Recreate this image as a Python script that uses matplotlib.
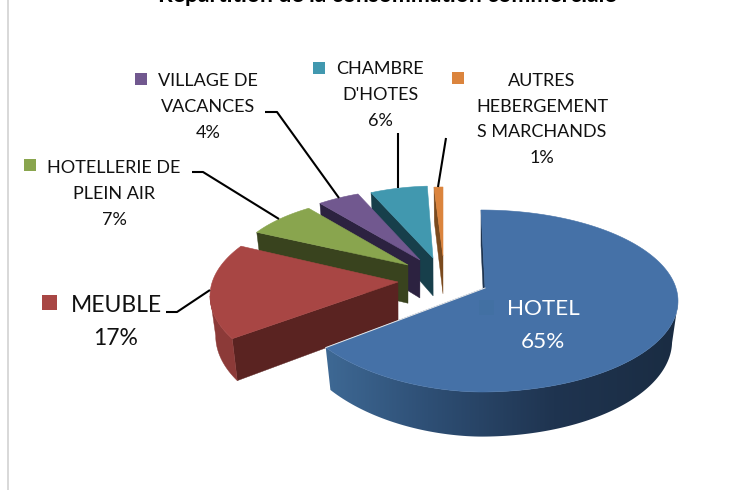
import numpy as np
import matplotlib
matplotlib.use("Agg")
import matplotlib.pyplot as plt
from matplotlib.patches import Polygon, Rectangle
from matplotlib.colors import LinearSegmentedColormap

plt.rcParams['font.family'] = ['Lato', 'DejaVu Sans']

TITLE = "Répartition de la consommation commerciale"
categories = ["HOTEL", "MEUBLE", "HOTELLERIE DE\nPLEIN AIR", "VILLAGE DE\nVACANCES", "CHAMBRE\nD'HOTES",
              "AUTRES\nHEBERGEMENT\nS MARCHANDS"]
shares = [65, 17, 7, 4, 6, 1]

top_colors = ["#4571A7", "#A84644", "#89A54E", "#71588F", "#4198AF", "#DB843D"]
cut_colors = ["#1E344F", "#5A2321", "#39431E", "#2C2240", "#173F4B", "#7A4A1E"]
rim_colors = ["#2B4A6F", "#8C3A38", "#6F863F", "#5A4672", "#34788C", "#B06A30"]
# per-wedge projection: apex x,y; ellipse centre x,y; radii; skew at start/end; front shoulder
proj = [
    (485, 288, 481, 301, 197, 91, 0, -2, 10),
    (398, 282, 400, 296, 190, 91, 8, 8, 0),
    (408, 265, 408, 270, 175, 75, 5, 5, 0),
    (420, 260, 417, 270, 171, 81, 5, 5, 0),
    (433, 258, 437, 256, 155, 70, 0, 0, 0),
    (443, 256, 443, 256, 143, 69, 0, 0, 0),
]
label_pos = [(543, 325.5, 16.2, 33), (116, 321.5, 16.5, 33), (114, 193.5, 13, 26), (208, 107, 13, 26),
             (380, 95, 13, 26), (542, 119.5, 13, 25.7)]
key_pos = [(479, 300, 15), (42, 295, 15), (24, 159, 12), (135, 73, 12), (313, 62, 12), (452, 72, 12)]
leaders = [None,
           [(166, 312), (177, 312), (210, 290)],
           [(192, 172), (203, 172), (279, 219)],
           [(265, 112), (277, 112), (339, 198)],
           [(398, 133), (398, 188)],
           [(446, 138), (438, 187)]]

fig = plt.figure(figsize=(7.45, 4.9), dpi=100)
ax = fig.add_axes([0, 0, 1, 1])
ax.set_xlim(0, 745)
ax.set_ylim(490, 0)
ax.axis("off")

ax.add_patch(Rectangle((7, 0), 2, 490, fc="#D9D9D9", ec="none"))
ax.text(387.5, 2, TITLE, ha="center", va="baseline", fontsize=16.5, fontweight="bold", color="black")

hotel_rim = LinearSegmentedColormap.from_list("r", [(0, "#3F6A96"), (0.3, "#2E4F75"), (0.65, "#1F3450"), (1, "#1A2C42")])


def lower(x, y, cx):
    return x + (cx - x) * 0.03, y + 38 + (y - 260) * 0.05


edges = np.cumsum([0] + shares) / sum(shares) * 360
for i in [5, 4, 3, 2, 1, 0]:
    ax_, ay_, cx, cy, rx, ry, r0, r1, sh = proj[i]
    deg = np.linspace(edges[i] + r0, edges[i + 1] + r1, 200)
    t = np.radians(deg)
    xs = cx + rx * np.sin(t)
    ys = cy - ry * np.cos(t) - sh * (np.clip(deg - 180, 0, None) / 54) ** 1.5
    bx, by = lower(xs, ys, cx)
    abx, aby = lower(ax_, ay_, cx)
    z = 10 + (5 - i) * 3
    # the cut face on the wedge's leading edge is the only one turned to the viewer
    ax.add_patch(Polygon([(xs[0], ys[0]), (bx[0], by[0]), (abx, aby), (ax_, ay_)],
                         fc=cut_colors[i], ec=cut_colors[i], lw=0.3, zorder=z))
    # rim, front half only
    front = np.cos(t) < 0
    if front.any():
        rim = np.column_stack([np.r_[xs[front], bx[front][::-1]], np.r_[ys[front], by[front][::-1]]])
        if i == 0:
            patch = Polygon(rim, fc="none", ec="none", zorder=z + 1)
            ax.add_patch(patch)
            im = ax.imshow(np.linspace(0, 1, 256)[None, :], extent=(320, 680, 445, 290), cmap=hotel_rim,
                           aspect="auto", zorder=z + 1)
            im.set_clip_path(patch)
            ax.set_xlim(0, 745)
            ax.set_ylim(490, 0)
        else:
            ax.add_patch(Polygon(rim, fc=rim_colors[i], ec=rim_colors[i], lw=0.3, zorder=z + 1))
    ax.add_patch(Polygon(np.column_stack([np.r_[ax_, xs], np.r_[ay_, ys]]), fc=top_colors[i],
                         ec=top_colors[i], lw=0.4, zorder=z + 2))
    if i == 0:
        ax.plot([ax_, xs[-1]], [ay_, ys[-1]], color="#E8E8E8", lw=0.7, zorder=z + 2)

for i, name in enumerate(categories):
    lx, ly, fs, lh = label_pos[i]
    lines = name.split("\n") + [f"{shares[i]}%"]
    col = "white" if i == 0 else "#111111"
    y0 = ly - lh * (len(lines) - 1) / 2
    for n, line in enumerate(lines):
        ax.text(lx, y0 + n * lh, line, ha="center", va="center", fontsize=fs, color=col, zorder=40)
    kx, ky, ks = key_pos[i]
    kc = "#4270A3" if i == 0 else top_colors[i]
    ax.add_patch(Rectangle((kx, ky), ks, ks, fc=kc, ec="none", zorder=39))
    if leaders[i]:
        p = np.array(leaders[i])
        ax.plot(p[:, 0], p[:, 1], color="black", lw=1.5, zorder=38, solid_capstyle="butt")

fig.savefig("out.png", dpi=100)
